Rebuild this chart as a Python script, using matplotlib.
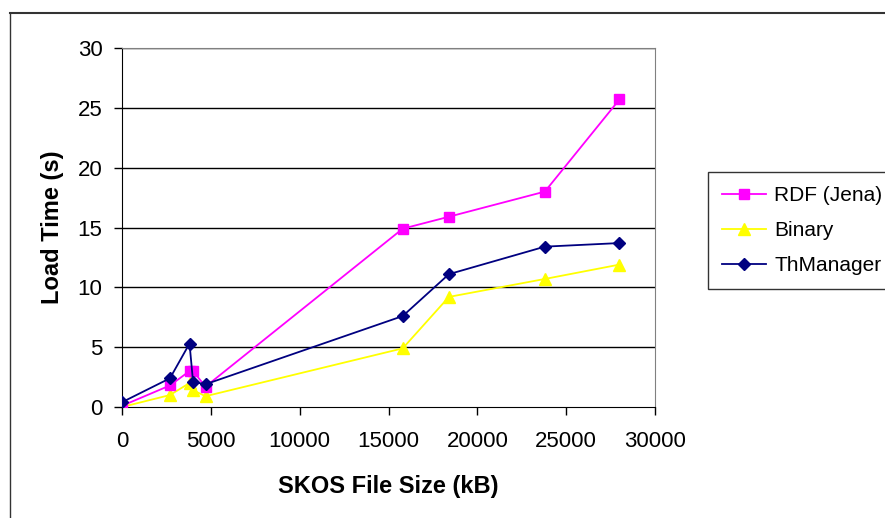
import matplotlib
matplotlib.use('Agg')
import matplotlib.pyplot as plt
from matplotlib.lines import Line2D

plt.rcParams['font.family'] = ['Liberation Sans', 'DejaVu Sans']

# SKOS file sizes (kB) and load times (s)
file_size = [0, 2700, 3800, 4000, 4700, 15800, 18400, 23800, 28000]
rdf_jena = [0.1, 1.8, 3.0, 3.0, 1.7, 14.9, 15.9, 18.0, 25.7]
binary = [0.0, 1.0, 2.0, 1.4, 0.9, 4.9, 9.2, 10.7, 11.9]
thmanager = [0.4, 2.4, 5.3, 2.1, 1.9, 7.6, 11.1, 13.4, 13.7]

x_ticks = [0, 5000, 10000, 15000, 20000, 25000, 30000]
y_ticks = [0, 5, 10, 15, 20, 25, 30]

fig = plt.figure(figsize=(8.85, 5.18), dpi=100)
ax = fig.add_axes([122/885, 1-407/518, (655-122)/885, (407-48)/518])

# horizontal gridlines
for yv in y_ticks[1:]:
    ax.axhline(yv, color='black', lw=1, zorder=1)

ax.plot(file_size, rdf_jena, color='#FF00FF', marker='s', ms=7, lw=1.3,
        label='RDF (Jena)', zorder=3)
ax.plot(file_size, binary, color='#FFFF00', marker='^', ms=8.5, lw=1.3,
        label='Binary', zorder=2)
ax.plot(file_size, thmanager, color='#000080', marker='D', ms=6.5, lw=1.3,
        label='ThManager', zorder=4)

ax.set_xlim(0, 30000)
ax.set_ylim(0, 30)
ax.set_xticks(x_ticks)
ax.set_yticks(y_ticks)
ax.tick_params(labelsize=16, length=6, width=1, color='black')
ax.tick_params(axis='y', pad=8)
ax.tick_params(axis='x', pad=11)

for side in ['top', 'right']:
    ax.spines[side].set_color('#808080')
ax.spines['left'].set_color('black')
ax.spines['bottom'].set_color('black')

ax.set_xlabel('SKOS File Size (kB)', fontsize=17, fontweight='bold', labelpad=17)
ax.set_ylabel('Load Time (s)', fontsize=17, fontweight='bold', labelpad=10)

leg = fig.legend(loc='upper left', bbox_to_anchor=(708/885, 1-172/518),
                 fontsize=15, frameon=True, fancybox=False, borderpad=0.68,
                 labelspacing=0.76, handlelength=2.1, handletextpad=0.4,
                 borderaxespad=0)
leg.get_frame().set_edgecolor('black')
leg.get_frame().set_linewidth(1)

# outer chart border
fig.add_artist(Line2D([10/885, 1], [1-13/518, 1-13/518], color='#333333', lw=1.5))
fig.add_artist(Line2D([10/885, 10/885], [0, 1-13/518], color='#333333', lw=1))

fig.savefig('out.png', dpi=100)
